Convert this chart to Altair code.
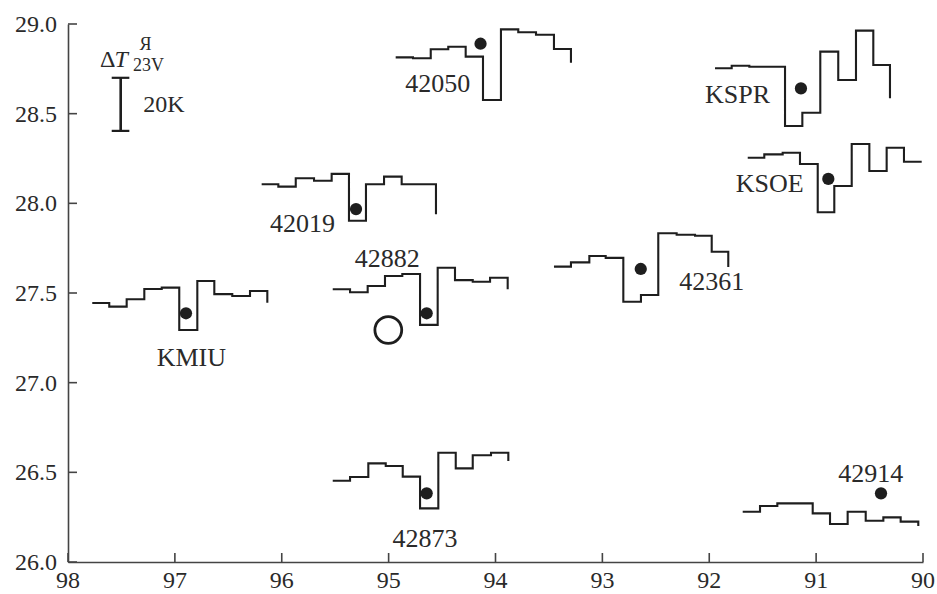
import altair as alt
import pandas as pd

# Step profiles: longitude of each step edge (deg E) and the plotted level
# (latitude of the trace; 20 K of brightness temperature = 0.3 deg on the map).
# The final point of each list closes the last step.
KMIU_LON = [97.773, 97.614, 97.451, 97.286, 97.123, 96.959, 96.790, 96.631, 96.463, 96.297, 96.135]
KMIU_LAT = [27.444, 27.424, 27.465, 27.522, 27.530, 27.294, 27.567, 27.494, 27.483, 27.511, 27.446]

S42019_LON = [96.188, 96.032, 95.869, 95.698, 95.533, 95.371, 95.212, 95.043, 94.878, 94.557]
S42019_LAT = [28.106, 28.093, 28.140, 28.126, 28.164, 27.903, 28.106, 28.149, 28.106, 27.939]

S42050_LON = [94.934, 94.772, 94.606, 94.442, 94.279, 94.117, 93.949, 93.787, 93.621, 93.453, 93.294]
S42050_LAT = [28.814, 28.809, 28.859, 28.873, 28.818, 28.576, 28.970, 28.954, 28.940, 28.861, 28.784]

S42882_LON = [95.523, 95.361, 95.196, 95.034, 94.872, 94.706, 94.541, 94.379, 94.213, 94.051, 93.886]
S42882_LAT = [27.521, 27.504, 27.539, 27.595, 27.606, 27.322, 27.641, 27.572, 27.563, 27.585, 27.521]

S42873_LON = [95.523, 95.361, 95.190, 95.027, 94.868, 94.706, 94.535, 94.372, 94.213, 94.042, 93.880]
S42873_LAT = [26.453, 26.474, 26.550, 26.535, 26.476, 26.299, 26.609, 26.522, 26.595, 26.609, 26.563]

S42361_LON = [93.453, 93.294, 93.122, 92.969, 92.804, 92.639, 92.477, 92.305, 92.133, 91.977, 91.822]
S42361_LAT = [27.647, 27.671, 27.706, 27.696, 27.451, 27.489, 27.833, 27.825, 27.819, 27.730, 27.645]

KSPR_LON = [91.946, 91.790, 91.625, 91.463, 91.291, 91.129, 90.961, 90.793, 90.627, 90.465, 90.309]
KSPR_LAT = [28.753, 28.767, 28.762, 28.762, 28.431, 28.505, 28.846, 28.688, 28.963, 28.771, 28.586]

KSOE_LON = [91.640, 91.485, 91.313, 91.151, 90.985, 90.830, 90.667, 90.502, 90.340, 90.178, 90.012]
KSOE_LAT = [28.254, 28.273, 28.282, 28.219, 27.950, 28.097, 28.331, 28.180, 28.310, 28.232, 28.232]

S42914_LON = [91.687, 91.525, 91.363, 91.198, 91.032, 90.870, 90.705, 90.536, 90.371, 90.209, 90.044]
S42914_LAT = [26.280, 26.312, 26.327, 26.327, 26.271, 26.212, 26.280, 26.230, 26.249, 26.225, 26.201]

# Stations: name, longitude, latitude
STATIONS = ["42050", "KSPR", "KSOE", "42019", "42882", "42361", "KMIU", "42873", "42914"]
STATION_LON = [94.140, 91.142, 90.886, 95.305, 94.644, 92.641, 96.896, 94.644, 90.393]
STATION_LAT = [28.890, 28.641, 28.136, 27.968, 27.387, 27.634, 27.387, 26.383, 26.383]

# Epicentre (open circle)
EPI_LON = [95.003]
EPI_LAT = [27.294]

# Axis ticks and their labels
X_TICKS = [98, 97, 96, 95, 94, 93, 92, 91, 90]
X_TICK_LABELS = ["98", "97", "96", "95", "94", "93", "92", "91", "90"]
Y_TICKS = [26.0, 26.5, 27.0, 27.5, 28.0, 28.5, 29.0]
Y_TICK_LABELS = ["26.0", "26.5", "27.0", "27.5", "28.0", "28.5", "29.0"]

profiles = {
    "KMIU": (KMIU_LON, KMIU_LAT),
    "42019": (S42019_LON, S42019_LAT),
    "42050": (S42050_LON, S42050_LAT),
    "42882": (S42882_LON, S42882_LAT),
    "42873": (S42873_LON, S42873_LAT),
    "42361": (S42361_LON, S42361_LAT),
    "KSPR": (KSPR_LON, KSPR_LAT),
    "KSOE": (KSOE_LON, KSOE_LAT),
    "42914": (S42914_LON, S42914_LAT),
}
rows = []
for name, (lons, lats) in profiles.items():
    for i, (lo, la) in enumerate(zip(lons, lats)):
        rows.append({"station": name, "lon": lo, "lat": la, "i": i})
steps = pd.DataFrame(rows)

stations = pd.DataFrame({"station": STATIONS, "lon": STATION_LON, "lat": STATION_LAT})
epi = pd.DataFrame({"lon": EPI_LON, "lat": EPI_LAT})

# Station label anchors (centre x, text baseline)
labels = pd.DataFrame({
    "text": ["42050", "KSPR", "KSOE", "42019", "42882", "42361", "KMIU", "42873", "42914"],
    "lon": [94.541, 91.736, 91.434, 95.806, 95.012, 91.977, 96.846, 94.660, 90.488],
    "lat": [28.623, 28.561, 28.061, 27.842, 27.647, 27.517, 27.095, 26.082, 26.444],
})

FONT = "Liberation Serif"
INK = "#1e1e1e"
TXT = "#2a2a2a"
AXC = "#444"

x_scale = alt.Scale(domain=[90, 98], reverse=True, nice=False, zero=False)
y_scale = alt.Scale(domain=[26.0, 29.0], nice=False, zero=False)

x_axis = alt.Axis(values=X_TICKS, title=None, labels=False, ticks=False, grid=False,
                  domainColor=AXC, domainWidth=1.6)
y_axis = alt.Axis(values=Y_TICKS, title=None, labels=False, ticks=False, grid=False,
                  domainColor=AXC, domainWidth=1.6)

X = alt.X("lon:Q", scale=x_scale, axis=x_axis)
Y = alt.Y("lat:Q", scale=y_scale, axis=y_axis)

lines = alt.Chart(steps).mark_line(interpolate="step-after", color=INK, strokeWidth=2.1).encode(
    x=X, y=Y, detail="station:N", order="i:Q"
)

dots = alt.Chart(stations).mark_point(filled=True, color=INK, size=150, opacity=1).encode(
    x=X, y=Y
)

circle = alt.Chart(epi).mark_point(filled=False, color=INK, size=720, strokeWidth=2.8,
                                   opacity=1).encode(x=X, y=Y)

names = alt.Chart(labels).mark_text(font=FONT, fontSize=26, color=TXT,
                                    align="center", baseline="alphabetic").encode(
    x=X, y=Y, text="text:N"
)

# Inward axis ticks and tick labels
xdf = pd.DataFrame({"lon": X_TICKS, "label": X_TICK_LABELS})
ydf = pd.DataFrame({"lat": Y_TICKS, "label": Y_TICK_LABELS})
xt = alt.Chart(xdf).mark_rule(color=AXC, strokeWidth=1.6).encode(
    x=X, y=alt.value(538), y2=alt.value(529)
)
yt = alt.Chart(ydf).mark_rule(color=AXC, strokeWidth=1.6).encode(
    y=Y, x=alt.value(0), x2=alt.value(9)
)
xl = alt.Chart(xdf).mark_text(font=FONT, fontSize=24, color=TXT, align="center",
                              baseline="alphabetic").encode(
    x=X, y=alt.value(564), text="label:N"
)
yl = alt.Chart(ydf).mark_text(font=FONT, fontSize=24, color=TXT, align="right",
                              baseline="alphabetic", dy=8).encode(
    y=Y, x=alt.value(-11), text="label:N"
)

# Scale bar for 20 K
bar_v = alt.Chart(pd.DataFrame({"lon": [97.507], "lat": [28.404], "lat2": [28.700]})).mark_rule(
    color=INK, strokeWidth=2.6).encode(x=X, y=Y, y2="lat2:Q")
bar_caps = alt.Chart(pd.DataFrame({"lon": [97.591, 97.591], "lon2": [97.426, 97.426],
                                   "lat": [28.404, 28.700]})).mark_rule(
    color=INK, strokeWidth=2.2).encode(x=X, x2="lon2:Q", y=Y)

legend_txt = pd.DataFrame({
    "text": ["\u0394", "T", "\u042f", "23V", "20K"],
    "lon": [97.701, 97.565, 97.330, 97.392, 97.295],
    "lat": [28.762, 28.762, 28.855, 28.738, 28.511],
    "size": [24, 24, 18, 18, 24],
    "style": ["normal", "italic", "normal", "normal", "normal"],
})
leg_normal = alt.Chart(legend_txt[legend_txt["style"] == "normal"]).mark_text(
    font=FONT, color=TXT, align="left", baseline="alphabetic").encode(
    x=X, y=Y, text="text:N", size=alt.Size("size:Q", scale=None, legend=None)
)
leg_italic = alt.Chart(legend_txt[legend_txt["style"] == "italic"]).mark_text(
    font=FONT, color=TXT, align="left", baseline="alphabetic", fontStyle="italic").encode(
    x=X, y=Y, text="text:N", size=alt.Size("size:Q", scale=None, legend=None)
)

chart = alt.layer(lines, dots, circle, names, xt, yt, xl, yl, bar_v, bar_caps,
                  leg_normal, leg_italic).properties(
    width=855, height=538,
    autosize=alt.AutoSizeParams(type="none"),
    padding={"left": 68, "top": 24, "right": 14, "bottom": 32},
    background="white",
).configure_view(stroke=None)

chart.save("out.html", embed_options={"renderer": "svg", "actions": False})
